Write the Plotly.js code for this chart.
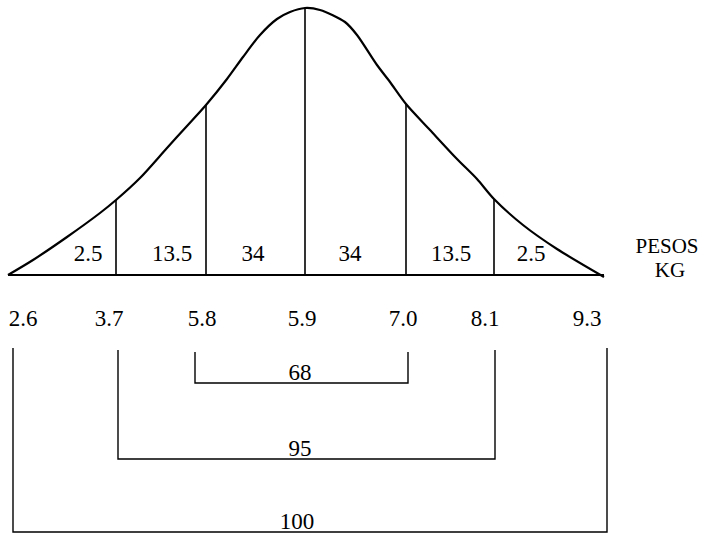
<!DOCTYPE html>
<html>
<head>
<meta charset="utf-8">
<script src="https://cdn.plot.ly/plotly-3.0.1.min.js"></script>
<style>html,body{margin:0;padding:0;background:#fff;}#chart{width:708px;height:536px;}</style>
</head>
<body>
<div id="chart"></div>
<script>
// Curve: horizontal position and height above the baseline
const curveX = [8, 33, 67, 100, 116, 140, 167, 187, 206, 227, 243, 260, 277, 290, 305, 320, 345, 357, 377, 390, 406, 430, 457, 477, 494, 523, 557, 604];
const curveH = [0, 15, 38, 62, 75, 97, 127, 149, 170, 196, 218, 240, 256, 263, 267, 265, 253, 240, 210, 193, 171, 145, 116, 96, 76, 50, 26, -2];

// Dividing lines under the curve
const boundX = [116, 206, 305, 406, 494];
const boundH = [75, 170, 267, 171, 76];
const baseX = [8, 604];

// Area percentages per band
const bandLabels = ['2.5', '13.5', '34', '34', '13.5', '2.5'];
const bandX = [88, 172, 253, 350, 451, 531];
const bandH = 20;

// Weight tick labels
const tickLabels = ['2.6', '3.7', '5.8', '5.9', '7.0', '8.1', '9.3'];
const tickX = [23, 109, 202, 302, 403, 485, 587];
const tickH = -45;

// Brackets: percent, left, right, top level, bottom level
const bracketLabels = ['68', '95', '100'];
const bracketLeft = [195, 118, 13];
const bracketRight = [408, 495, 607];
const bracketTop = [-77, -75, -73];
const bracketBottom = [-108, -184, -257];
const bracketLabelX = [300, 300, 297];
const bracketLabelH = [-99, -175, -248];

const axisLabel = ['PESOS', 'KG'];
const axisLabelX = [667, 670];
const axisLabelH = [27, 3];

const font = {family: 'Liberation Serif, Times New Roman, serif', size: 23, color: '#000'};
const font2 = {family: 'Liberation Serif, Times New Roman, serif', size: 21, color: '#000'};
const traces = [];

traces.push({x: curveX, y: curveH, mode: 'lines', line: {color: '#000', width: 2.2, shape: 'spline', smoothing: 0.8}, hoverinfo: 'skip'});
traces.push({x: baseX, y: [0, 0], mode: 'lines', line: {color: '#000', width: 1.8}, hoverinfo: 'skip'});

const vx = [], vy = [];
boundX.forEach((x, i) => { vx.push(x, x, null); vy.push(0, boundH[i], null); });
traces.push({x: vx, y: vy, mode: 'lines', line: {color: '#000', width: 1.6}, hoverinfo: 'skip'});

const bx = [], by = [];
bracketLabels.forEach((_, i) => {
  bx.push(bracketLeft[i], bracketLeft[i], bracketRight[i], bracketRight[i], null);
  by.push(bracketTop[i], bracketBottom[i], bracketBottom[i], bracketTop[i], null);
});
traces.push({x: bx, y: by, mode: 'lines', line: {color: '#000', width: 1.4}, hoverinfo: 'skip'});

traces.push({x: bandX, y: bandX.map(() => bandH), mode: 'text', text: bandLabels, textposition: 'middle center', textfont: font, hoverinfo: 'skip'});
traces.push({x: tickX, y: tickX.map(() => tickH), mode: 'text', text: tickLabels, textposition: 'middle center', textfont: font, hoverinfo: 'skip'});
traces.push({x: bracketLabelX, y: bracketLabelH, mode: 'text', text: bracketLabels, textposition: 'middle center', textfont: font, hoverinfo: 'skip'});
traces.push({x: axisLabelX, y: axisLabelH, mode: 'text', text: axisLabel, textposition: 'middle center', textfont: font2, hoverinfo: 'skip'});

const layout = {
  width: 708, height: 536,
  margin: {l: 0, r: 0, t: 0, b: 0},
  paper_bgcolor: '#fff', plot_bgcolor: '#fff',
  showlegend: false,
  xaxis: {range: [0, 708], visible: false, fixedrange: true},
  yaxis: {range: [-261, 275], visible: false, fixedrange: true}
};
Plotly.newPlot('chart', traces, layout, {staticPlot: true, displayModeBar: false});
</script>
</body>
</html>
